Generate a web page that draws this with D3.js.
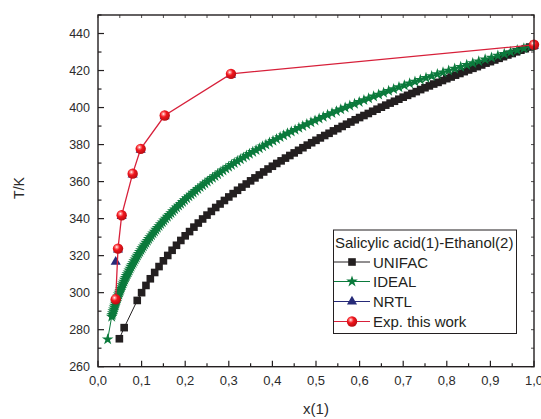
<!DOCTYPE html>
<html><head><meta charset="utf-8">
<script src="https://cdn.jsdelivr.net/npm/d3@7"></script>
<style>body{margin:0;background:#fff}svg{display:block;font-family:"Liberation Sans",Arial,sans-serif}</style>
</head><body>
<svg id="c" width="541" height="419"></svg>
<script>
// ---- data ----
const xTicks = [0,0.1,0.2,0.3,0.4,0.5,0.6,0.7,0.8,0.9,1.0];
const xTickLabels = ["0,0","0,1","0,2","0,3","0,4","0,5","0,6","0,7","0,8","0,9","1,0"];
const yTicks = [260,280,300,320,340,360,380,400,420,440];
const yTickLabels = ["260","280","300","320","340","360","380","400","420","440"];

// Experimental (this work)
const expX = [0.0406,0.0459,0.0543,0.0795,0.0979,0.153,0.305,1.0];
const expT = [296.4,323.8,341.8,364.3,377.7,395.7,418.2,433.9];
// NRTL
const nrtlX = [0.0406,0.0459,0.0543,0.0795,0.0979,0.153,0.305,1.0];
const nrtlT = [316.6,323.3,341.3,363.8,377.2,395.2,417.7,433.4];
// UNIFAC
const unifacX = [0.049,0.060,0.09,0.10,0.11,0.12,0.13,0.14,0.15,0.16,0.17,0.18,0.19,0.20,0.21,0.22,0.23,0.24,0.25,0.26,0.27,0.28,0.29,0.30,0.31,0.32,0.33,0.34,0.35,0.36,0.37,0.38,0.39,0.40,0.41,0.42,0.43,0.44,0.45,0.46,0.47,0.48,0.49,0.50,0.51,0.52,0.53,0.54,0.55,0.56,0.57,0.58,0.59,0.60,0.61,0.62,0.63,0.64,0.65,0.66,0.67,0.68,0.69,0.70,0.71,0.72,0.73,0.74,0.75,0.76,0.77,0.78,0.79,0.80,0.81,0.82,0.83,0.84,0.85,0.86,0.87,0.88,0.89,0.90,0.91,0.92,0.93,0.94,0.95,0.96,0.97,0.98,0.99,1.00];
const unifacT = [275.1,281.1,295.8,300.0,303.9,307.5,310.9,314.1,317.2,320.1,322.9,325.6,328.2,330.7,333.0,335.4,337.6,339.8,341.9,343.9,346.0,347.9,349.8,351.7,353.5,355.3,357.0,358.7,360.4,362.0,363.6,365.2,366.8,368.3,369.8,371.2,372.7,374.1,375.5,376.9,378.3,379.7,381.0,382.3,383.6,384.9,386.1,387.4,388.6,389.8,391.0,392.2,393.4,394.6,395.7,396.8,398.0,399.1,400.2,401.3,402.4,403.4,404.5,405.6,406.6,407.6,408.6,409.7,410.7,411.7,412.7,413.6,414.6,415.6,416.5,417.5,418.4,419.4,420.3,421.2,422.1,423.0,424.0,424.8,425.7,426.6,427.5,428.4,429.2,430.1,431.0,431.8,432.7,433.5];
// IDEAL
const idealT = [274.8,287,288,289,290,291,292,293,294,295,296,297,298,299,300,301,302,303,304,305,306,307,308,309,310,311,312,313,314,315,316,317,318,319,320,321,322,323,324,325,326,327,328,329,330,331,332,333,334,335,336,337,338,339,340,341,342,343,344,345,346,347,348,349,350,351,352,353,354,355,356,357,358,359,360,361,362,363,364,365,366,367,368,369,370,371,372,373,374,375,376,377,378,379,380,381,382,383,384,385,386,387,388,389,390,391,392,393,394,395,396,397,398,399,400,401,402,403,404,405,406,407,408,409,410,411,412,413,414,415,416,417,418,419,420,421,422,423,424,425,426,427,428,429,430,431,432,433];
const idealX = [0.0222,0.0314,0.0326,0.0338,0.0350,0.0363,0.0376,0.0389,0.0402,0.0415,0.0430,0.0445,0.0460,0.0475,0.0490,0.0507,0.0524,0.0541,0.0558,0.0575,0.0595,0.0614,0.0633,0.0653,0.0672,0.0694,0.0716,0.0737,0.0759,0.0781,0.0806,0.0830,0.0855,0.0879,0.0904,0.0931,0.0958,0.0986,0.1013,0.1041,0.1071,0.1102,0.1133,0.1163,0.1194,0.1228,0.1262,0.1296,0.1330,0.1363,0.1401,0.1438,0.1476,0.1513,0.1551,0.1592,0.1634,0.1675,0.1717,0.1758,0.1803,0.1849,0.1894,0.1940,0.1985,0.2035,0.2085,0.2135,0.2184,0.2234,0.2289,0.2343,0.2397,0.2452,0.2506,0.2566,0.2625,0.2684,0.2744,0.2803,0.2867,0.2932,0.2996,0.3061,0.3125,0.3195,0.3265,0.3335,0.3404,0.3474,0.3550,0.3625,0.3700,0.3776,0.3851,0.3933,0.4014,0.4095,0.4177,0.4258,0.4346,0.4433,0.4521,0.4608,0.4696,0.4790,0.4884,0.4978,0.5072,0.5166,0.5266,0.5367,0.5468,0.5568,0.5669,0.5776,0.5884,0.5992,0.6099,0.6207,0.6322,0.6437,0.6551,0.6666,0.6781,0.6903,0.7026,0.7148,0.7270,0.7393,0.7523,0.7653,0.7783,0.7913,0.8043,0.8181,0.8319,0.8457,0.8595,0.8733,0.8879,0.9025,0.9171,0.9318,0.9463,0.9615,0.9768,0.9922];

const legendTitle = "Salicylic acid(1)-Ethanol(2)";
const seriesNames = ["UNIFAC","IDEAL","NRTL","Exp. this work"];

// ---- chart ----
const svg = d3.select("#c");
const L=98, R=534, T=15, B=366.7;
const x = d3.scaleLinear().domain([0,1]).range([L,R]);
const y = d3.scaleLinear().domain([260,450]).range([B,T]);
const axisCol = "#231f20", labCol = "#2b2b2b";
const cBlack="#231f20", cGreen="#0b7a3c", cBlue="#262a78", cRed="#d7203a";

const defs = svg.append("defs");
const g = defs.append("radialGradient").attr("id","ball").attr("cx","0.38").attr("cy","0.35").attr("r","0.65");
g.append("stop").attr("offset","0").attr("stop-color","#ffffff");
g.append("stop").attr("offset","0.18").attr("stop-color","#ff8a8a");
g.append("stop").attr("offset","0.45").attr("stop-color","#f2161e");
g.append("stop").attr("offset","1").attr("stop-color","#b80d12");

const zip=(a,b)=>a.map((v,i)=>[v,b[i]]);
const line = d3.line().x(d=>x(d[0])).y(d=>y(d[1]));

const unifac = zip(unifacX, unifacT);
const ideal = zip(idealX, idealT);
const nrtl = zip(nrtlX, nrtlT);
const exp = zip(expX, expT);

const sq = d3.symbol().type(d3.symbolSquare).size(58);
const st = d3.symbol().type(d3.symbolStar).size(42);
const tr = d3.symbol().type(d3.symbolTriangle).size(44);

// UNIFAC
svg.append("path").attr("d",line(unifac)).attr("fill","none").attr("stroke",cBlack).attr("stroke-width",1);
svg.append("g").selectAll("path").data(unifac).join("path").attr("d",sq())
  .attr("transform",d=>`translate(${x(d[0])},${y(d[1])})`).attr("fill",cBlack);
// IDEAL
svg.append("path").attr("d",line(ideal)).attr("fill","none").attr("stroke",cGreen).attr("stroke-width",1);
svg.append("g").selectAll("path").data(ideal).join("path").attr("d",st())
  .attr("transform",d=>`translate(${x(d[0])},${y(d[1])})`).attr("fill",cGreen);
// NRTL (markers only; its line is hidden under the experimental line in the reference)
svg.append("g").selectAll("path").data(nrtl).join("path").attr("d",tr())
  .attr("transform",d=>`translate(${x(d[0])},${y(d[1])})`).attr("fill",cBlue);
// Exp
svg.append("path").attr("d",line(exp)).attr("fill","none").attr("stroke",cRed).attr("stroke-width",1.3);
svg.append("g").selectAll("circle").data(exp).join("circle")
  .attr("cx",d=>x(d[0])).attr("cy",d=>y(d[1])).attr("r",5.2).attr("fill","url(#ball)");

// ---- axes ----
const ax = svg.append("g");
ax.append("rect").attr("x",L).attr("y",T).attr("width",R-L).attr("height",B-T)
  .attr("fill","none").attr("stroke",axisCol).attr("stroke-width",1.4);
const xMinor = d3.range(0,1.0001,0.05);
xMinor.forEach((v,i)=>{
  const isMaj = i%2===0;
  ax.append("line").attr("x1",x(v)).attr("x2",x(v)).attr("y1",B).attr("y2",B-(isMaj?6:3.5)).attr("stroke",axisCol).attr("stroke-width",1.2);
  ax.append("line").attr("x1",x(v)).attr("x2",x(v)).attr("y1",T).attr("y2",T+3).attr("stroke",axisCol).attr("stroke-width",0.8);
});
const yMinor = d3.range(260,450.001,10);
yMinor.forEach(v=>{
  const isMaj = v%20===0;
  ax.append("line").attr("x1",L).attr("x2",L+(isMaj?6:3.5)).attr("y1",y(v)).attr("y2",y(v)).attr("stroke",axisCol).attr("stroke-width",1.2);
  ax.append("line").attr("x1",R).attr("x2",R-3).attr("y1",y(v)).attr("y2",y(v)).attr("stroke",axisCol).attr("stroke-width",0.8);
});
xTicks.forEach((v,i)=>{
  ax.append("text").attr("x",x(v)).attr("y",385).attr("text-anchor","middle")
    .attr("font-size",13).attr("fill",labCol).text(xTickLabels[i]);
});
yTicks.forEach((v,i)=>{
  ax.append("text").attr("x",90).attr("y",y(v)+4.5).attr("text-anchor","end")
    .attr("font-size",12.5).attr("fill",labCol).text(yTickLabels[i]);
});
svg.append("text").attr("transform","translate(24,188) rotate(-90)").attr("text-anchor","middle")
  .attr("font-size",14).attr("fill",labCol).text("T/K");
svg.append("text").attr("x",316).attr("y",414).attr("text-anchor","middle")
  .attr("font-size",15).attr("fill",labCol).text("x(1)");

// ---- legend ----
const lg = svg.append("g");
lg.append("rect").attr("x",333.5).attr("y",230).attr("width",183).attr("height",103.5)
  .attr("fill","#fff").attr("stroke",axisCol).attr("stroke-width",1);
lg.append("text").attr("x",335).attr("y",248).attr("font-size",15).attr("fill",cBlack).text(legendTitle);
const rowsY=[262,281.5,301.5,321.5];
const legCols=[cBlack,cGreen,cBlue,cRed];
const legSyms=[sq,st,tr,null];
seriesNames.forEach((nm,i)=>{
  const yy=rowsY[i];
  lg.append("line").attr("x1",334).attr("x2",370).attr("y1",yy).attr("y2",yy).attr("stroke",legCols[i]).attr("stroke-width",1);
  if(legSyms[i]) lg.append("path").attr("d",legSyms[i]()).attr("transform",`translate(352,${yy})`).attr("fill",legCols[i]);
  else lg.append("circle").attr("cx",352).attr("cy",yy).attr("r",5.2).attr("fill","url(#ball)");
  lg.append("text").attr("x",373).attr("y",yy+5.5).attr("font-size",15).attr("fill",cBlack).text(nm);
});
</script>
</body></html>
